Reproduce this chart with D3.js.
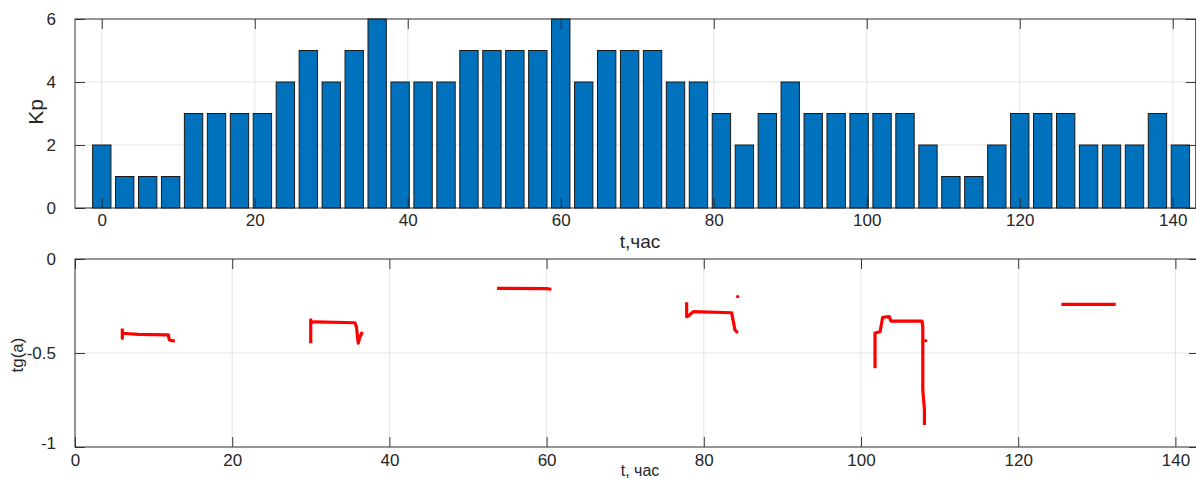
<!DOCTYPE html>
<html><head><meta charset="utf-8">
<script src="https://cdn.jsdelivr.net/npm/d3@7"></script>
<style>body{margin:0;background:#fff;} svg{display:block;font-family:"Liberation Sans",Arial,sans-serif;}</style>
</head><body>
<svg id="c" width="1196" height="479"></svg>
<script>
// ---- data ----
const kpHours = [0,3,6,9,12,15,18,21,24,27,30,33,36,39,42,45,48,51,54,57,60,63,66,69,72,75,78,81,84,87,90,93,96,99,102,105,108,111,114,117,120,123,126,129,132,135,138,141];
const kpValues = [2,1,1,1,3,3,3,3,4,5,4,5,6,4,4,4,5,5,5,5,6,4,5,5,5,4,4,3,2,3,4,3,3,3,3,3,2,1,1,2,3,3,3,2,2,2,3,2];
const topXTicks = [0,20,40,60,80,100,120,140];
const topYTicks = [0,2,4,6];
const botXTicks = [0,20,40,60,80,100,120,140];
const botYTicks = [0,-0.5,-1];
const botYLabels = ["0","-0.5","-1"];

const seg1T = [6.02,6.02,6.02,8.05,11.87,12.0,12.5];
const seg1V = [-0.378,-0.422,-0.395,-0.401,-0.404,-0.431,-0.435];
const seg2T = [29.99,29.99,30.15,30.6,35.62,35.8,36.04,36.2,36.47];
const seg2V = [-0.44,-0.324,-0.337,-0.334,-0.339,-0.36,-0.448,-0.42,-0.395];
const seg3T = [53.9,60.0,60.4];
const seg3V = [-0.156,-0.158,-0.16];
const seg4T = [77.82,77.82,78.03,78.66,83.55,83.6,83.97,84.19];
const seg4V = [-0.239,-0.307,-0.303,-0.280,-0.286,-0.30,-0.378,-0.387];
const seg5T = [101.78,101.78,102.42,102.76,103.6,103.8,107.76,107.86,107.86,108.07,108.07];
const seg5V = [-0.573,-0.394,-0.387,-0.310,-0.307,-0.330,-0.330,-0.36,-0.697,-0.80,-0.874];
const seg6T = [125.7,132.2];
const seg6V = [-0.241,-0.241];
const dotT = [84.3,108.23];
const dotV = [-0.2,-0.435];

const segments = [[seg1T,seg1V],[seg2T,seg2V],[seg3T,seg3V],[seg4T,seg4V],[seg5T,seg5V],[seg6T,seg6V]];

// ---- drawing ----
const svg = d3.select("#c");
const axisCol = "#262626", gridCol = "#e3e3e3";
const tickLen = 10;

function panel(opts){
  const g = svg.append("g");
  const x = opts.x, y = opts.y;
  const [x0,x1] = x.range(), [y1,y0] = y.range();
  g.selectAll(null).data(opts.xTicks).join("line")
    .attr("x1",d=>x(d)).attr("x2",d=>x(d)).attr("y1",y0).attr("y2",y1)
    .attr("stroke",gridCol).attr("stroke-width",1);
  g.selectAll(null).data(opts.yTicks).join("line")
    .attr("y1",d=>y(d)).attr("y2",d=>y(d)).attr("x1",x0).attr("x2",x1)
    .attr("stroke",gridCol).attr("stroke-width",1);
  const content = svg.append("g");
  const axes = svg.append("g");
  axes.append("rect").attr("x",x0).attr("y",y0).attr("width",x1-x0).attr("height",y1-y0)
    .attr("fill","none").attr("stroke",axisCol).attr("stroke-width",0.9);
  const ab = axes.append("g").attr("transform",`translate(0,${y1})`)
    .call(d3.axisBottom(x).tickValues(opts.xTicks).tickSizeInner(-tickLen).tickSizeOuter(0).tickPadding(tickLen+opts.xPad).tickFormat(d3.format("d")));
  const at = axes.append("g").attr("transform",`translate(0,${y0})`)
    .call(d3.axisTop(x).tickValues(opts.xTicks).tickSizeInner(-tickLen).tickSizeOuter(0).tickFormat(""));
  const al = axes.append("g").attr("transform",`translate(${x0},0)`)
    .call(d3.axisLeft(y).tickValues(opts.yTicks).tickSizeInner(-tickLen).tickSizeOuter(0).tickPadding(tickLen+9).tickFormat((d,i)=>opts.yLabels[i]));
  const ar = axes.append("g").attr("transform",`translate(${x1},0)`)
    .call(d3.axisRight(y).tickValues(opts.yTicks).tickSizeInner(-tickLen).tickSizeOuter(0).tickFormat(""));
  [ab,at,al,ar].forEach(a=>{
    a.select(".domain").remove();
    a.selectAll("line").attr("stroke",axisCol).attr("stroke-width",0.9);
    a.selectAll("text").attr("fill",axisCol).attr("font-size",17).attr("font-family","Liberation Sans, Arial, sans-serif");
  });
  return {content, al, ab};
}

// top panel
const xTop = d3.scaleLinear().domain([-3.5,143]).range([75,1195.7]);
const yTop = d3.scaleLinear().domain([0,6]).range([208,19]);
const pTop = panel({x:xTop,y:yTop,xTicks:topXTicks,yTicks:topYTicks,yLabels:topYTicks.map(String),xPad:-4});
const bw = xTop(2.4)-xTop(0);
pTop.content.selectAll("rect").data(kpHours).join("rect")
  .attr("x",(d)=>xTop(d)-bw/2).attr("width",bw)
  .attr("y",(d,i)=>yTop(kpValues[i])).attr("height",(d,i)=>yTop(0)-yTop(kpValues[i]))
  .attr("fill","#0072BD").attr("stroke","#1a1a1a").attr("stroke-width",1);
svg.append("text").attr("x",640).attr("y",248).attr("text-anchor","middle")
  .attr("font-size",19).attr("fill",axisCol).text("t,час");
svg.append("text").attr("transform","translate(43,112) rotate(-90)").attr("text-anchor","middle")
  .attr("font-size",21).attr("fill",axisCol).text("Kp");

// bottom panel
const xBot = d3.scaleLinear().domain([0,143]).range([75,1199]);
const yBot = d3.scaleLinear().domain([-1,0]).range([447,259]);
const pBot = panel({x:xBot,y:yBot,xTicks:botXTicks,yTicks:botYTicks,yLabels:botYLabels,xPad:-3});
pBot.al.selectAll(".tick text").filter(d=>d===-1).attr("dy","0.1em");
const line = d3.line().x(d=>xBot(d[0])).y(d=>yBot(d[1]));
segments.forEach(([ts,vs])=>{
  pBot.content.append("path").attr("d",line(ts.map((t,i)=>[t,vs[i]])))
    .attr("fill","none").attr("stroke","#ff0000").attr("stroke-width",3.2)
    .attr("stroke-linejoin","round").attr("stroke-linecap","square");
});
pBot.content.selectAll("circle").data(dotT).join("circle")
  .attr("cx",d=>xBot(d)).attr("cy",(d,i)=>yBot(dotV[i])).attr("r",1.7).attr("fill","#ff0000");
svg.append("text").attr("x",640).attr("y",476).attr("text-anchor","middle")
  .attr("font-size",16).attr("fill",axisCol).text("t, час");
svg.append("text").attr("transform","translate(23,355) rotate(-90)").attr("text-anchor","middle")
  .attr("font-size",17).attr("fill",axisCol).text("tg(a)");
</script>
</body></html>
